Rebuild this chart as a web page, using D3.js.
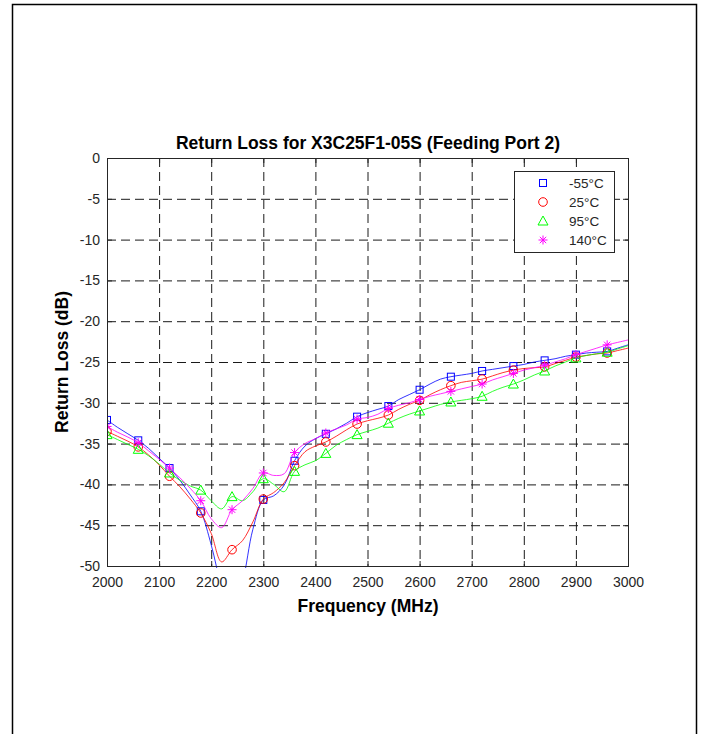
<!DOCTYPE html>
<html>
<head>
<meta charset="utf-8">
<script src="https://cdn.jsdelivr.net/npm/d3@7"></script>
<style>
  body { margin: 0; background: #fff; }
  svg { font-family: "Liberation Sans", Arial, sans-serif; }
</style>
</head>
<body>
<svg id="chart" width="707" height="734"></svg>
<script>
// frequency grid (MHz), 20 MHz step
var freqs = d3.range(2000, 3001, 20);

// return loss (dB) per temperature
var lossM55 = [-32.1, -33.0, -33.8, -34.6, -35.6, -36.8, -38.0, -39.5, -41.3, -43.3,
  -47.4, -52.5, -55.5, -52.0, -45.5, -41.9, -41.4, -40.1, -37.1, -35.3,
  -34.4, -33.8, -33.2, -32.5, -31.7, -31.2, -30.8, -30.4, -29.6, -29.0,
  -28.4, -27.7, -27.1, -26.8, -26.6, -26.4, -26.1, -25.9, -25.7, -25.5,
  -25.3, -25.0, -24.8, -24.6, -24.3, -24.1, -23.9, -23.8, -23.7, -23.3, -22.9];
var loss25 = [-33.5, -34.1, -34.7, -35.4, -36.4, -37.6, -39.0, -40.3, -41.8, -43.5,
  -46.0, -49.5, -48.0, -46.9, -44.6, -41.8, -41.0, -39.8, -37.7, -36.0,
  -35.3, -34.8, -34.1, -33.3, -32.6, -32.2, -31.9, -31.5, -30.8, -30.2,
  -29.7, -29.0, -28.4, -27.9, -27.5, -27.3, -27.1, -26.7, -26.3, -26.0,
  -25.8, -25.7, -25.6, -25.2, -24.8, -24.4, -24.2, -24.0, -23.9, -23.6, -23.3];
var loss95 = [-33.9, -34.5, -35.1, -35.7, -36.5, -37.5, -38.6, -39.5, -40.2, -40.7,
  -42.0, -43.0, -41.5, -42.0, -40.9, -39.3, -40.0, -40.9, -38.4, -37.6,
  -37.1, -36.2, -35.2, -34.5, -33.9, -33.5, -33.1, -32.5, -31.9, -31.4,
  -31.0, -30.6, -30.2, -29.9, -29.7, -29.5, -29.2, -28.6, -28.1, -27.7,
  -27.2, -26.6, -26.1, -25.5, -25.0, -24.5, -24.2, -24.0, -23.8, -23.4, -23.0];
var loss140 = [-32.9, -33.6, -34.2, -34.9, -35.9, -36.9, -38.0, -39.2, -40.5, -42.0,
  -44.2, -45.3, -43.1, -42.0, -40.5, -38.6, -38.9, -38.7, -36.1, -35.0,
  -34.4, -33.7, -33.2, -32.7, -32.0, -31.8, -31.4, -30.7, -30.3, -30.0,
  -29.6, -29.2, -28.9, -28.6, -28.3, -28.0, -27.7, -27.2, -26.8, -26.4,
  -26.0, -25.7, -25.4, -25.0, -24.6, -24.1, -23.7, -23.3, -22.9, -22.6, -22.3];

var seriesNames = ['-55°C', '25°C', '95°C', '140°C'];
var seriesColors = ['#0000ff', '#ff0000', '#00ff00', '#ff00ff'];
var seriesSymbols = ['square', 'circle', 'triangle', 'asterisk'];
var seriesValues = [lossM55, loss25, loss95, loss140];

var xTicks = d3.range(2000, 3001, 100);
var yTicks = d3.range(-50, 1, 5);

var svg = d3.select('#chart');

// outer figure frame
svg.append('path')
  .attr('d', 'M12.5,740 V4.5 H696.5 V740')
  .attr('fill', 'none')
  .attr('stroke', '#000')
  .attr('stroke-width', 1.5);

var plotLeft = 107, plotRight = 628, plotTop = 158, plotBottom = 566;
var x = d3.scaleLinear().domain([2000, 3000]).range([plotLeft, plotRight]);
var y = d3.scaleLinear().domain([-50, 0]).range([plotBottom, plotTop]);

var axisColor = '#262626';
var plainNum = d => String(d);

// grid
var grid = svg.append('g').attr('stroke', '#1a1a1a').attr('stroke-width', 1)
  .attr('stroke-dasharray', '9,5');
grid.selectAll('.vg').data(xTicks.slice(1, -1)).join('line')
  .attr('x1', d => x(d) + 0.5).attr('x2', d => x(d) + 0.5)
  .attr('y1', plotTop).attr('y2', plotBottom);
grid.selectAll('.hg').data(yTicks.slice(1, -1)).join('line')
  .attr('y1', d => y(d) + 0.5).attr('y2', d => y(d) + 0.5)
  .attr('x1', plotLeft).attr('x2', plotRight);

// axes (ticks inside, box on)
var tickLen = 5;
svg.append('g').attr('transform', `translate(0,${plotBottom})`)
  .call(d3.axisBottom(x).tickValues(xTicks).tickSizeInner(-tickLen).tickSizeOuter(0)
    .tickPadding(11).tickFormat(plainNum))
  .call(g => g.select('.domain').remove());
svg.append('g').attr('transform', `translate(0,${plotTop})`)
  .call(d3.axisTop(x).tickValues(xTicks).tickSizeInner(-tickLen).tickSizeOuter(0).tickFormat(''))
  .call(g => g.select('.domain').remove());
svg.append('g').attr('transform', `translate(${plotLeft},0)`)
  .call(d3.axisLeft(y).tickValues(yTicks).tickSizeInner(-tickLen).tickSizeOuter(0)
    .tickPadding(7).tickFormat(plainNum))
  .call(g => g.select('.domain').remove());
svg.append('g').attr('transform', `translate(${plotRight},0)`)
  .call(d3.axisRight(y).tickValues(yTicks).tickSizeInner(-tickLen).tickSizeOuter(0).tickFormat(''))
  .call(g => g.select('.domain').remove());
svg.selectAll('.tick line').attr('stroke', axisColor);
svg.selectAll('.tick text').attr('fill', axisColor).style('font-size', '14px')
  .style('font-family', '"Liberation Sans", Arial, sans-serif');

// clip region
svg.append('clipPath').attr('id', 'plotClip')
  .append('rect').attr('x', plotLeft).attr('y', plotTop)
  .attr('width', plotRight - plotLeft).attr('height', plotBottom - plotTop + 2);

var plot = svg.append('g').attr('clip-path', 'url(#plotClip)');

var line = d3.line()
  .x((d, i) => x(freqs[i]))
  .y(d => y(d))
  .curve(d3.curveCatmullRom.alpha(0.5));

function drawMarker(g, type, color, cx, cy) {
  if (type === 'square') {
    g.append('rect').attr('x', cx - 3.5).attr('y', cy - 3.5).attr('width', 7).attr('height', 7)
      .attr('fill', 'none').attr('stroke', color).attr('stroke-width', 1);
  } else if (type === 'circle') {
    g.append('circle').attr('cx', cx).attr('cy', cy).attr('r', 4.3)
      .attr('fill', 'none').attr('stroke', color).attr('stroke-width', 1);
  } else if (type === 'triangle') {
    g.append('path').attr('d', `M${cx},${cy - 5} L${cx + 5},${cy + 4} L${cx - 5},${cy + 4} Z`)
      .attr('fill', 'none').attr('stroke', color).attr('stroke-width', 1);
  } else {
    var r = 4.5, q = r * 0.707;
    g.append('path')
      .attr('d', `M${cx - r},${cy} H${cx + r} M${cx},${cy - r} V${cy + r} M${cx - q},${cy - q} L${cx + q},${cy + q} M${cx - q},${cy + q} L${cx + q},${cy - q}`)
      .attr('fill', 'none').attr('stroke', color).attr('stroke-width', 1);
  }
}

seriesValues.forEach(function(vals, s) {
  plot.append('path')
    .datum(vals)
    .attr('d', line)
    .attr('fill', 'none')
    .attr('stroke', seriesColors[s])
    .attr('stroke-width', 1)
    .attr('stroke-opacity', 0.8);
  var mg = plot.append('g');
  vals.forEach(function(v, i) {
    if (i % 3 === 0 && i < vals.length - 1) {
      drawMarker(mg, seriesSymbols[s], seriesColors[s], x(freqs[i]), y(v));
    }
  });
});

// axes box
svg.append('rect')
  .attr('x', plotLeft + 0.5).attr('y', plotTop + 0.5)
  .attr('width', plotRight - plotLeft).attr('height', plotBottom - plotTop)
  .attr('fill', 'none').attr('stroke', axisColor).attr('stroke-width', 1);

// legend
var legend = svg.append('g').attr('transform', 'translate(514,171)');
legend.append('rect').attr('x', 0.5).attr('y', 0.5).attr('width', 100).attr('height', 81)
  .attr('fill', '#fff').attr('stroke', axisColor).attr('stroke-width', 1);
seriesNames.forEach(function(name, s) {
  var ry = 12 + s * 19;
  drawMarker(legend, seriesSymbols[s], seriesColors[s], 29, ry);
  legend.append('text').attr('x', 55).attr('y', ry + 5)
    .style('font-size', '13.5px').attr('fill', axisColor).text(name);
});

// titles
svg.append('text').attr('x', 368).attr('y', 149).attr('text-anchor', 'middle')
  .style('font-size', '17.5px').style('font-weight', 'bold').attr('fill', '#000')
  .text('Return Loss for X3C25F1-05S (Feeding Port 2)');
svg.append('text').attr('x', 368).attr('y', 612).attr('text-anchor', 'middle')
  .style('font-size', '17.5px').style('font-weight', 'bold').attr('fill', '#000')
  .text('Frequency (MHz)');
svg.append('text').attr('transform', 'translate(68,362) rotate(-90)').attr('text-anchor', 'middle')
  .style('font-size', '17.5px').style('font-weight', 'bold').attr('fill', '#000')
  .text('Return Loss (dB)');
</script>
</body>
</html>
